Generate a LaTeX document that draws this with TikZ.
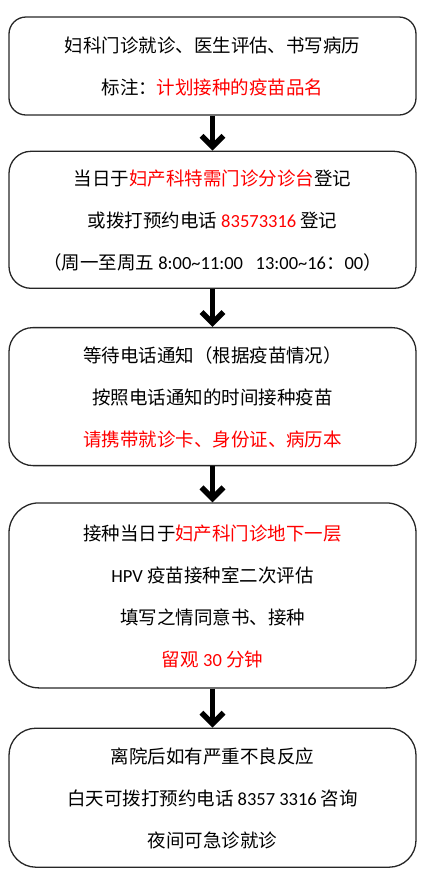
\documentclass[tikz,border=0pt]{standalone}
\usepackage{xcolor}
\usepackage{fontspec}
\setmainfont{Noto Sans CJK SC}
\newfontfamily\latin{Carlito}
\usetikzlibrary{arrows.meta, positioning}
\newcommand{\redtxt}[1]{\textcolor{red}{#1}}

\begin{document}
\begin{tikzpicture}[
  x=1pt, y=1pt,
  node distance=36pt,
  box/.style={rectangle, draw=black!85, line width=1.3pt, minimum width=407pt, inner sep=0pt, text depth=-5pt, align=center, font=\fontsize{18.5}{42}\selectfont},
  arrow/.style={line width=5.5pt, -{Straight Barb[length=11pt, width=22pt]}}
]
\useasboundingbox (0,0) rectangle (422,-871);

\node (visit) [box, minimum height=98pt, rounded corners=17pt] at (212.5,-66) {妇科门诊就诊、医生评估、书写病历\\标注：\redtxt{计划接种的疫苗品名}};
\node (book) [box, minimum height=137pt, rounded corners=22pt, below=35pt of visit] {当日于\redtxt{妇产科特需门诊分诊台}登记\\或拨打预约电话 \redtxt{\latin 83573316} 登记\\（周一至周五 {\latin 8:00\textasciitilde 11:00\ \ \ 13:00\textasciitilde 16}：{\latin 00}）};
\node (wait) [box, minimum height=138pt, rounded corners=24pt, below=38pt of book] {等待电话通知（根据疫苗情况）\\按照电话通知的时间接种疫苗\\\redtxt{请携带就诊卡、身份证、病历本}};
\node (vacc) [box, minimum height=185pt, rounded corners=30pt, below=36pt of wait] {接种当日于\redtxt{妇产科门诊地下一层}\\{\latin HPV} 疫苗接种室二次评估\\填写之情同意书、接种\\\redtxt{留观 {\latin 30} 分钟}};
\node (leave) [box, minimum height=139pt, rounded corners=27pt, below=39pt of vacc] {离院后如有严重不良反应\\白天可拨打预约电话 {\latin 8357 3316} 咨询\\夜间可急诊就诊};

\draw [arrow] (visit) -- (book);
\draw [arrow] (book) -- (wait);
\draw [arrow] (wait) -- (vacc);
\draw [arrow] (vacc) -- (leave);
\end{tikzpicture}
\end{document}
